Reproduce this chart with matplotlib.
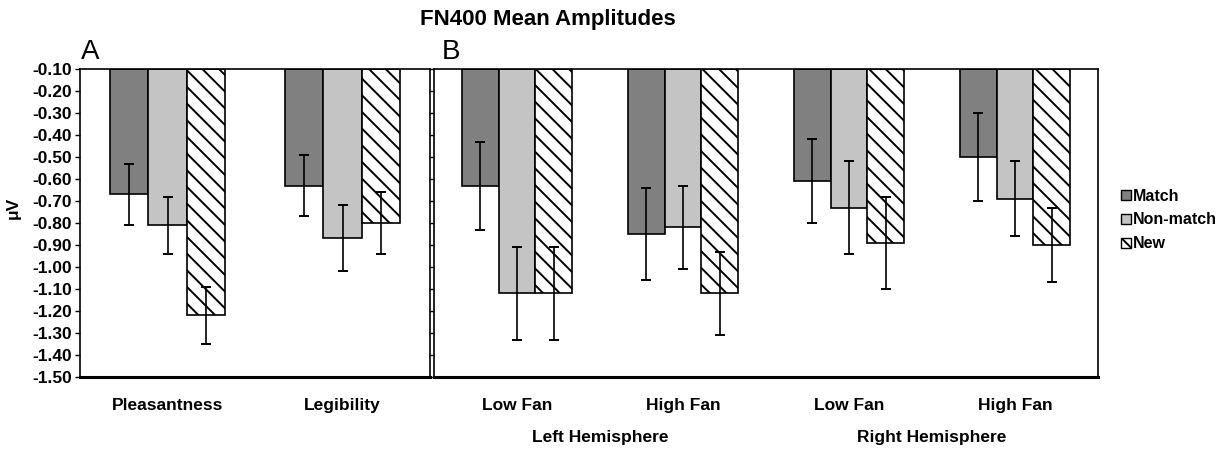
import numpy as np
import matplotlib
matplotlib.use("Agg")
import matplotlib.pyplot as plt
from matplotlib.patches import Patch

plt.rcParams['font.family'] = ['Liberation Sans', 'DejaVu Sans']
plt.rcParams['axes.unicode_minus'] = False
plt.rcParams['hatch.linewidth'] = 1.4

# ---- data ----
series = ["Match", "Non-match", "New"]
a_categories = ["Pleasantness", "Legibility"]
a_match = [-0.67, -0.63]
a_match_err = [0.14, 0.14]
a_nonmatch = [-0.81, -0.87]
a_nonmatch_err = [0.13, 0.15]
a_new = [-1.22, -0.80]
a_new_err = [0.13, 0.14]

b_categories = ["Low Fan", "High Fan", "Low Fan", "High Fan"]
b_groups = ["Left Hemisphere", "Right Hemisphere"]
b_match = [-0.63, -0.85, -0.61, -0.50]
b_match_err = [0.20, 0.21, 0.19, 0.20]
b_nonmatch = [-1.12, -0.82, -0.73, -0.69]
b_nonmatch_err = [0.21, 0.19, 0.21, 0.17]
b_new = [-1.12, -1.12, -0.89, -0.90]
b_new_err = [0.21, 0.19, 0.21, 0.17]

y_top = -0.10
y_bottom = -1.50
y_ticks = np.round(np.arange(-1.50, -0.099, 0.10), 2)

# ---- styles ----
colors = ["#808080", "#c4c4c4", "white"]
hatches = [None, None, "\\\\"]
bar_w = 0.22
FS = 12.5

fig = plt.figure(figsize=(12.2, 4.49), dpi=100)
H = 449.0
W = 1220.0
ax_a = fig.add_axes([80 / W, (H - 377) / H, 350 / W, 308 / H])
ax_b = fig.add_axes([434 / W, (H - 377) / H, 664 / W, 308 / H])


def draw(ax, cats, vals, errs):
    x = np.arange(len(cats))
    offsets = [-bar_w, 0, bar_w]
    for i, (v, e) in enumerate(zip(vals, errs)):
        v = np.array(v)
        ax.bar(x + offsets[i], v - y_top, bottom=y_top, width=bar_w,
               color=colors[i], edgecolor="black", linewidth=1.2,
               hatch=hatches[i], zorder=2)
        ax.errorbar(x + offsets[i], v, yerr=e, fmt="none", ecolor="black",
                    elinewidth=1.2, capsize=3.8, capthick=1.4, zorder=3)
    ax.set_xlim(-0.5, len(cats) - 0.5)
    ax.set_ylim(y_bottom, y_top)
    ax.set_yticks(y_ticks)
    ax.set_xticks(x)
    ax.set_xticklabels(cats, fontsize=FS, fontweight="bold")
    ax.tick_params(axis="x", length=0, pad=15)
    ax.tick_params(axis="y", direction="out", length=3.5, width=1.0)
    for s in ["left", "top", "right"]:
        ax.spines[s].set_linewidth(1.2)
        ax.spines[s].set_color("black")
    ax.spines["bottom"].set_linewidth(2.2)
    ax.spines["bottom"].set_color("black")


draw(ax_a, a_categories, [a_match, a_nonmatch, a_new],
     [a_match_err, a_nonmatch_err, a_new_err])
draw(ax_b, b_categories, [b_match, b_nonmatch, b_new],
     [b_match_err, b_nonmatch_err, b_new_err])

ax_a.set_yticklabels([f"{t:.2f}" for t in y_ticks], fontsize=FS, fontweight="bold")
ax_a.tick_params(axis="y", pad=2)
ax_b.set_yticklabels([])

# group labels under panel B
for gi, g in enumerate(b_groups):
    xc = gi * 2 + 0.5
    ax_b.text(xc, -0.195, g, transform=ax_b.get_xaxis_transform(),
              ha="center", va="center", fontsize=FS, fontweight="bold")

# y label
fig.text(13 / W, 1 - 208 / H, "μV", rotation=90, ha="center", va="center",
         fontsize=FS, fontweight="bold")

# title and panel letters
fig.text(548 / W, 1 - 25 / H, "FN400 Mean Amplitudes", ha="center",
         va="baseline", fontsize=16, fontweight="bold")
fig.text(81 / W, 1 - 59 / H, "A", ha="left", va="baseline", fontsize=20)
fig.text(442 / W, 1 - 59 / H, "B", ha="left", va="baseline", fontsize=20)

# legend
handles = [Patch(facecolor=colors[i], edgecolor="black", hatch=hatches[i],
                 linewidth=1.0, label=series[i]) for i in range(3)]
fig.legend(handles=handles, loc="center left",
           bbox_to_anchor=(1121 / W, 1 - 220 / H), frameon=False,
           prop={"size": 11.5, "weight": "bold"}, handlelength=0.65,
           handleheight=0.65, handletextpad=0.12, labelspacing=0.56,
           borderpad=0, borderaxespad=0)

fig.savefig("out.png", dpi=100)
